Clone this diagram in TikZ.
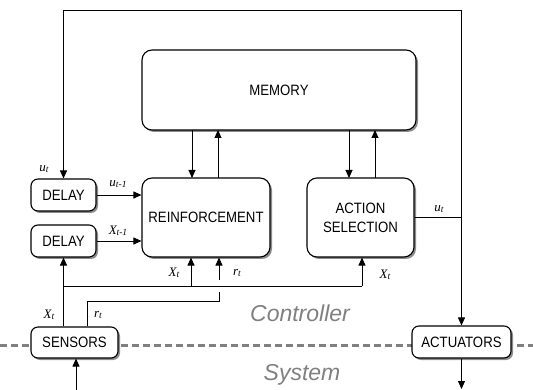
\documentclass[tikz,border=0pt]{standalone}
\usepackage{fontspec}
\setmainfont{Liberation Sans}
\newfontfamily\labfont{Liberation Serif}
\newfontfamily\boxfont{Liberation Sans}[FakeStretch=0.88]
\usetikzlibrary{arrows.meta,shadows}
\newcommand{\lsub}[1]{\raisebox{-0.25ex}{\fontsize{9.5}{10}\selectfont #1}}
\begin{document}
\begin{tikzpicture}[x=1pt,y=-1pt,
  box/.style={draw=black,line width=1.1pt,fill=white,rounded corners=#1,
    font=\boxfont\fontsize{15}{19}\selectfont,align=center,inner sep=0pt,
    drop shadow={shadow xshift=2pt,shadow yshift=-2pt,fill=black!45,opacity=1}},
  box/.default=7pt,
  conn/.style={line width=0.9pt},
  arr/.style={conn,-{Triangle[length=8pt,width=7pt]}},
  lab/.style={font=\labfont\itshape\fontsize{13}{14}\selectfont,inner sep=0pt},
  region/.style={font=\itshape\fontsize{23}{26}\selectfont,text=black!50,inner sep=0pt}]
\useasboundingbox (0,0) rectangle (533,390);
% boundary
\draw[black!50,line width=3pt,dash pattern=on 7pt off 4pt] (0,345) -- (533,345);
\node[region] (ctl) at (300,313) {Controller};
\node[region] (sys) at (302,375) {System};
% boxes
\node[box=10pt,minimum width=274pt,minimum height=80pt] (mem) at (279,90) {MEMORY};
\node[box,minimum width=65pt,minimum height=32pt] (d1) at (63.5,195) {DELAY};
\node[box,minimum width=65pt,minimum height=32pt] (d2) at (63.5,241) {DELAY};
\node[box=10pt,minimum width=128pt,minimum height=79pt] (rf) at (206,217.5) {REINFORCEMENT};
\node[box=10pt,minimum width=107pt,minimum height=79pt] (as) at (360.5,217.5) {ACTION\\SELECTION};
\node[box,minimum width=87pt,minimum height=31pt] (sen) at (74.5,342.5) {SENSORS};
\node[box,minimum width=99pt,minimum height=32pt] (act) at (461.5,342) {ACTUATORS};
% top loop u_t
\coordinate (tr) at (461.5,10);
\coordinate (tl) at (63.5,10);
\coordinate (uj) at (461.5,217);
\draw[arr] (tr) -- (act.north);
\draw[arr] (tr) -- (tl) -- (d1.north);
\draw[conn] (as.east |- uj) -- (uj);
\node[lab] (ut1) at (44,169) {u\lsub{t}};
\node[lab] (ut2) at (439,209) {u\lsub{t}};
% delays to reinforcement
\draw[arr] (d1.east) -- (d1.east -| rf.west);
\draw[arr] (d2.east) -- (d2.east -| rf.west);
\node[lab] (ut1m) at (118,184) {u\lsub{t-1}};
\node[lab] (xt1m) at (118,231) {X\lsub{t-1}};
% memory links
\draw[arr] (192,130) -- (192,178);
\draw[arr] (218,178) -- (218,130);
\draw[arr] (349,130) -- (349,178);
\draw[arr] (375,178) -- (375,130);
% X_t distribution
\coordinate (xa) at (63.5,286);
\coordinate (xb) at (191,286);
\coordinate (xc) at (362,286);
\draw[arr] (sen.north -| xa) -- (d2.south);
\draw[conn] (xa) -- (xc);
\draw[arr] (xb) -- (xb |- rf.south);
\draw[arr] (xc) -- (xc |- as.south);
\node[lab] (xl1) at (174,273) {X\lsub{t}};
\node[lab] (xl2) at (385,275) {X\lsub{t}};
\node[lab] (xl3) at (49,315) {X\lsub{t}};
% r_t
\coordinate (ra) at (87,301);
\coordinate (rb) at (219,301);
\coordinate (rc) at (219,292);
\coordinate (rd) at (219,280);
\draw[conn] (sen.north -| ra) -- (ra) -- (rb) -- (rc);
\draw[arr] (rd) -- (rd |- rf.south);
\node[lab] (rl1) at (237,273) {r\lsub{t}};
\node[lab] (rl2) at (98,315) {r\lsub{t}};
% system in/out
\coordinate (sin) at (76,390);
\coordinate (aout) at (461.5,389);
\draw[arr] (sin) -- (sin |- sen.south);
\draw[arr] (act.south) -- (aout);
\end{tikzpicture}
\end{document}
